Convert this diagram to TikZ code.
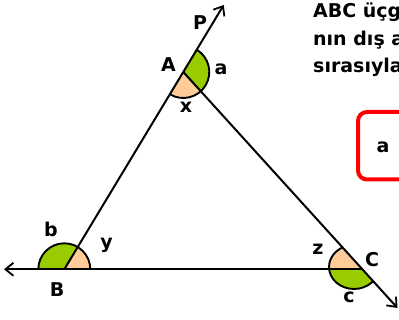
\documentclass[tikz,border=0pt]{standalone}
\usepackage{fontspec}
\setmainfont{DejaVu Sans}
\usetikzlibrary{arrows.meta}
\definecolor{peach}{RGB}{255,204,153}
\definecolor{leaf}{RGB}{153,204,0}
\begin{document}
\begin{tikzpicture}[x=1pt,y=1pt,
  line/.style={line width=2pt, black},
  tip/.style={-{Straight Barb[length=8pt,width=13pt,line width=1.8pt]}},
  lbl/.style={font=\fontsize{19}{20}\selectfont\bfseries, inner sep=0pt, anchor=base},
  txt/.style={font=\fontsize{19}{24}\selectfont\bfseries, inner sep=0pt, anchor=base west},
  arcline/.style={line width=1.9pt, black}]
\useasboundingbox (0,0) rectangle (399,320);
\coordinate (A) at (183.3,248);
\coordinate (B) at (64.3,50.7);
\coordinate (C) at (362.3,50.7);
\coordinate (P) at (223.7,315);
\coordinate (L) at (4,50.7);
\coordinate (Q) at (397.5,12);
% angle at B
\fill[peach] (B) -- ++(0:26) arc[start angle=0,end angle=58.9,radius=26] -- cycle;
\fill[leaf] (B) -- ++(58.9:26) arc[start angle=58.9,end angle=180,radius=26] -- cycle;
\draw[arcline] (B) ++(0:26) arc[start angle=0,end angle=180,radius=26];
% angle at A
\fill[peach] (A) -- ++(-121.1:26) arc[start angle=-121.1,end angle=-47.8,radius=26] -- cycle;
\fill[leaf] (A) -- ++(-47.8:26) arc[start angle=-47.8,end angle=58.9,radius=26] -- cycle;
\draw[arcline] (A) ++(-121.1:26) arc[start angle=-121.1,end angle=58.9,radius=26];
% angle at C
\begin{scope}
  \clip (183.3,248) -- (541.3,-146.6) -- (-10,-146.6) -- (-10,248) -- cycle;
  \begin{scope}
    \clip (0,50.7) rectangle (400,320);
    \fill[peach] (354,53) ellipse[x radius=25,y radius=22];
  \end{scope}
  \begin{scope}
    \clip (0,-100) rectangle (400,50.7);
    \fill[leaf] (354,53) ellipse[x radius=25,y radius=22];
  \end{scope}
  \draw[arcline] (354,53) ellipse[x radius=25,y radius=22];
\end{scope}
% triangle lines
\draw[line, tip] (B) -- (P);
\draw[line, tip] (C) -- (L);
\draw[line, tip] (A) -- (Q);
% labels
\node[lbl] (lP) at (200,290) {P};
\node[lbl] (lA) at (168.5,248.3) {A};
\node[lbl] (la) at (221,245) {a};
\node[lbl] (lx) at (186,207) {x};
\node[lbl] (lb) at (51,83) {b};
\node[lbl] (ly) at (106.5,71) {y};
\node[lbl] (lB) at (57,23) {B};
\node[lbl] (lz) at (318,65) {z};
\node[lbl] (lC) at (372,53) {C};
\node[lbl] (lc) at (349,17) {c};
% text
\node[txt] (t1) at (313,302) {ABC üçg};
\node[txt] (t2) at (313,274.5) {nın dış a};
\node[txt] (t3) at (313,247) {sırasıyla};
% red box
\draw[red, line width=4pt, rounded corners=9pt] (358,140.5) rectangle (440,208);
\node[lbl] (ba) at (383,167) {a};
\end{tikzpicture}
\end{document}
